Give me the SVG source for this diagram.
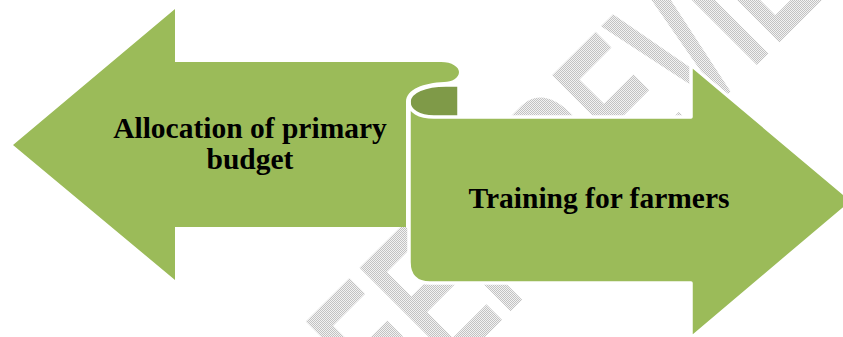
<svg xmlns="http://www.w3.org/2000/svg" width="843" height="337" viewBox="0 0 843 337">
<defs>
<pattern id="dither" width="2" height="2" patternUnits="userSpaceOnUse">
<rect width="2" height="2" fill="#F2F2F2"/>
<rect width="1" height="1" fill="#C2C2C2"/>
<rect x="1" y="1" width="1" height="1" fill="#C2C2C2"/>
</pattern>
<clipPath id="wmclip">
<text class="wm" transform="translate(344,478) rotate(-45) scale(0.57,1)" x="0" y="0">PEER REVIEW</text>
</clipPath>
</defs>
<style>
.shape{fill:#9BBB59;stroke:#FFFFFF;stroke-width:3.5;stroke-linejoin:round}
.curl{fill:#7F9A48;stroke:#FFFFFF;stroke-width:3.5;stroke-linejoin:round}
.label{font-family:"Liberation Serif","Times New Roman",serif;font-weight:bold;font-size:29.5px;fill:#000000;text-anchor:middle}
.wm{font-family:"Liberation Sans",Arial,sans-serif;font-weight:bold;font-size:200px}
</style>
<g id="watermark">
<rect x="0" y="0" width="843" height="337" fill="url(#dither)" clip-path="url(#wmclip)"/>
</g>
<g id="node-allocation">
<path class="shape" style="stroke:none" d="M13,145 L175,9 L175,62 L441,62 C452,62 459,67 459,72 C459,78 452,82 444,82 C424,83 406,89 406,102 L406,227 L175,227 L175,280 Z"/>
<text class="label" x="250" y="138">Allocation of primary</text>
<text class="label" x="250" y="169">budget</text>
</g>
<g id="node-training">
<path class="curl" d="M459,85 L446,85 C426,85 409,91 409,102 L409,118 L459,118 Z"/>
<path class="shape" d="M409,102 C409,111 419,117 434,117 L691,117 L691,65 L853,201 L691,338 L691,283 L430,283 Q409,283 409,262 Z"/>
<text class="label" x="599" y="208">Training for farmers</text>
</g>
<g id="connectors"/>
</svg>
